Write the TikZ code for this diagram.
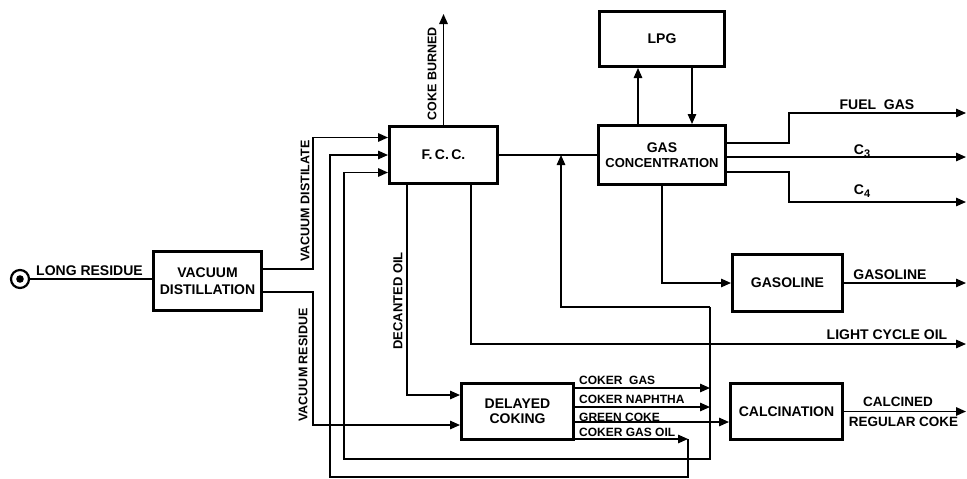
\documentclass[tikz,border=0pt]{standalone}
\usepackage{fontspec}
\setmainfont{Liberation Sans}
\usetikzlibrary{arrows.meta}
\begin{document}
\begin{tikzpicture}[x=1pt,y=-1pt,
  box/.style={draw, line width=3pt, inner sep=0pt, align=center, font=\bfseries\fontsize{14}{17}\selectfont},
  flow/.style={line width=1.5pt},
  arr/.style={flow, -{Triangle[length=10pt,width=8.5pt]}},
  lab/.style={inner sep=0pt, font=\bfseries\fontsize{14}{17}\selectfont},
  slab/.style={inner sep=0pt, font=\bfseries\fontsize{12}{14}\selectfont},
  rlab/.style={inner sep=0pt, rotate=90, font=\bfseries\fontsize{12.5}{14}\selectfont},
]
\fill[white] (0,0) rectangle (967,479);
\useasboundingbox (0,0) rectangle (967,479);

% boxes
\node[box, minimum width=108pt, minimum height=59pt] (VD) at (207.5,281) {VACUUM\\DISTILLATION};
\node[box, minimum width=108pt, minimum height=57pt] (FCC) at (443.5,155) {F.\,C.\,C.};
\node[box, minimum width=125pt, minimum height=55pt] (LPG) at (662,39) {LPG};
\node[box, minimum width=127pt, minimum height=59pt] (GC) at (662,155) {GAS\\[-2pt]{\fontsize{13}{17}\selectfont CONCENTRATION}};
\node[box, minimum width=110pt, minimum height=57pt] (GSL) at (787.5,283) {GASOLINE};
\node[box, minimum width=112pt, minimum height=56pt] (DC) at (517.5,411.5) {DELAYED\\[-2pt]COKING};
\node[box, minimum width=112pt, minimum height=56pt] (CAL) at (786.5,411.5) {CALCINATION};

% source
\node[circle, draw, line width=2.2pt, minimum size=18pt, inner sep=0pt] (src) at (20,279) {};
\fill (src.center) circle (3.8pt);
\draw[flow] (src.east) -- (src.east -| VD.west);

% endpoints
\coordinate (cb) at (443.5,14);
\coordinate (eFG) at (966,113);
\coordinate (eC3) at (966,157);
\coordinate (eC4) at (966,202);
\coordinate (eGS) at (966,283);
\coordinate (eLCO) at (966,344);
\coordinate (eCAL) at (966,411.5);
\coordinate (jGas) at (710,388);
\coordinate (jNap) at (710,407);
\coordinate (jGO) at (688,439);
\coordinate (rTop) at (710,307);
\coordinate (jFG) at (561,155);

% vacuum distillation outputs
\draw[arr] ([yshift=12pt]VD.east) -- ++(50,0) |- ([yshift=17.5pt]FCC.west);
\draw[arr] ([yshift=-11pt]VD.east) -- ++(50,0) |- ([yshift=-13.5pt]DC.west);

% FCC
\draw[arr] (FCC.north) -- (cb);
\draw[flow] (FCC.east) -- (GC.west);
\draw[arr] ([xshift=-36.5pt]FCC.south) |- ([yshift=16.5pt]DC.west);
\draw[arr] ([xshift=27.5pt]FCC.south) |- (eLCO);

% gas concentration
\draw[arr] ([xshift=-24pt]GC.north) -- ([xshift=-24pt]LPG.south);
\draw[arr] ([xshift=30pt]LPG.south) -- ([xshift=30pt]GC.north);
\draw[arr] ([yshift=12pt]GC.east) -- (789,143) |- (eFG);
\draw[arr] ([yshift=-2pt]GC.east) -- (eC3);
\draw[arr] ([yshift=-17pt]GC.east) -- (789,172) |- (eC4);
\draw[arr] (GC.south) |- (GSL.west);
\draw[arr] (GSL.east) -- (eGS);
\draw[arr] (CAL.east) -- (eCAL);

% delayed coking outputs
\draw[arr] ([yshift=23.5pt]DC.east) -- (jGas);
\draw[arr] ([yshift=4.5pt]DC.east) -- (jNap);
\draw[arr] ([yshift=-10.5pt]DC.east) -- ([yshift=-10.5pt]CAL.west);
\draw[arr] ([yshift=-27.5pt]DC.east) -- (jGO);

% recycles
\draw[arr] (rTop) -| (jFG);
\draw[arr] (rTop) -- (710,459) -- (344,459) |- ([yshift=-17.5pt]FCC.west);
\draw[arr] (jGO) -- (688,477) -- (330,477) |- (FCC.west);

% labels
\node[lab] (lLR) at (89.5,271) {LONG RESIDUE};
\node[rlab] (lVD) at (305,201) {VACUUM DISTILATE};
\node[rlab] (lVR) at (303,365) {VACUUM RESIDUE};
\node[rlab] (lCB) at (432,74) {COKE BURNED};
\node[rlab, font=\bfseries\fontsize{13}{14}\selectfont] (lDO) at (398,301) {DECANTED OIL};
\node[lab] (lFG) at (877,105) {FUEL\ \ GAS};
\node[lab] (lC3) at (862,151) {C\raisebox{-3pt}{\fontsize{11}{12}\selectfont 3}};
\node[lab] (lC4) at (862,191) {C\raisebox{-3pt}{\fontsize{11}{12}\selectfont 4}};
\node[lab] (lGS) at (890,274.5) {GASOLINE};
\node[lab] (lLCO) at (887,334.5) {LIGHT CYCLE OIL};
\node[lab, font=\bfseries\fontsize{13.5}{16}\selectfont] (lCA) at (898,401.5) {CALCINED};
\node[lab, font=\bfseries\fontsize{13.5}{16}\selectfont] (lRC) at (903.5,422) {REGULAR COKE};
\node[slab, anchor=west] (lCG) at (579,380.5) {COKER\ \ GAS};
\node[slab, anchor=west] (lCN) at (579,399) {COKER NAPHTHA};
\node[slab, anchor=west] (lGC) at (579,417) {GREEN COKE};
\node[slab, anchor=west] (lCO) at (579,432) {COKER GAS OIL};
\end{tikzpicture}
\end{document}
